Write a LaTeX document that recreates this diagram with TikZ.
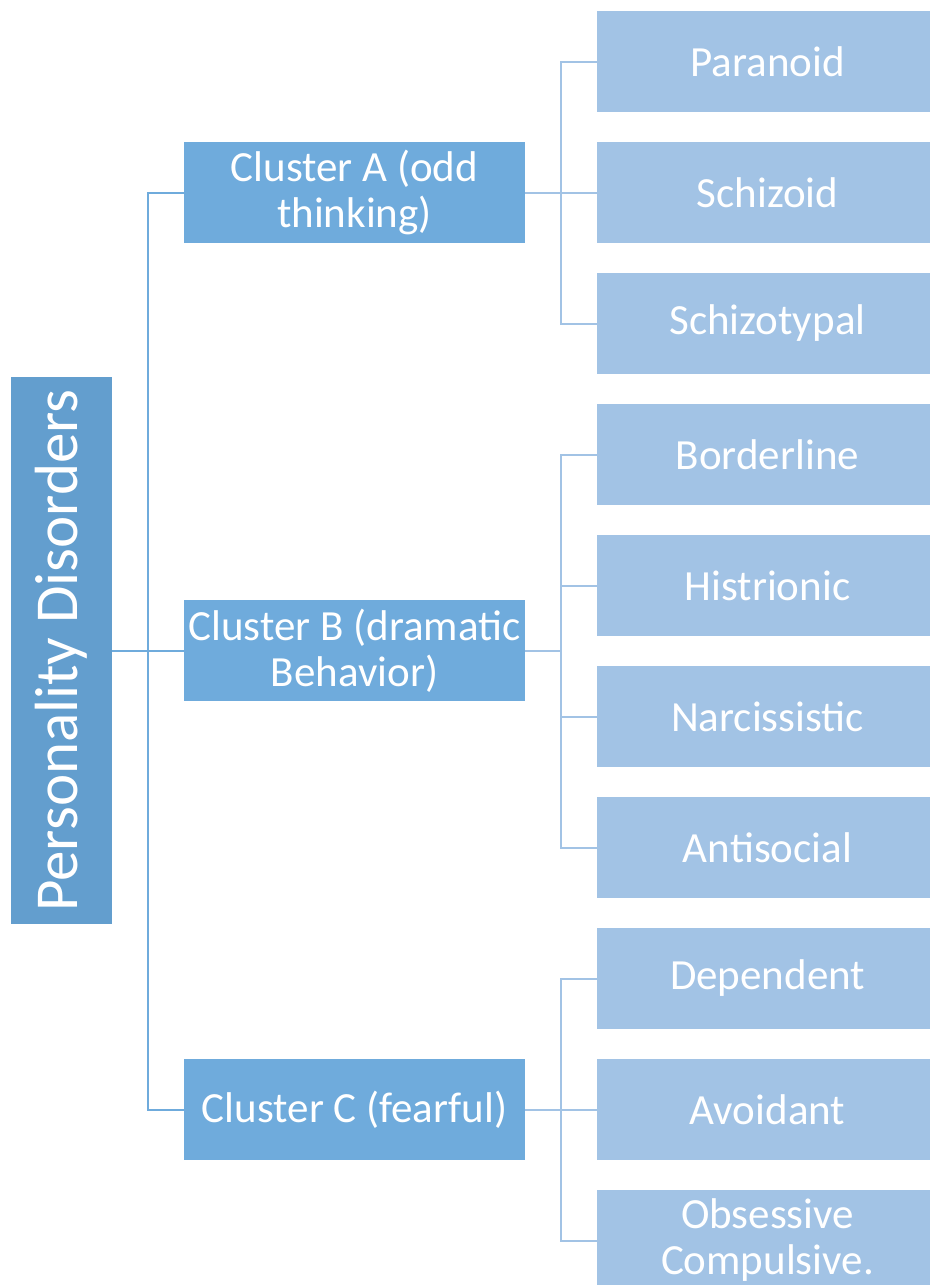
\documentclass[tikz,border=0pt]{standalone}
\usepackage{fontspec}
\setmainfont{Carlito}
\usetikzlibrary{positioning}
\definecolor{rootblue}{HTML}{639ECE}
\definecolor{midblue}{HTML}{6FABDC}
\definecolor{leafblue}{HTML}{A2C3E5}

\begin{document}
\begin{tikzpicture}[
    x=1pt, y=-1pt,
    node distance=30pt,
    rootbox/.style={rectangle, fill=rootblue, text=white, rotate=90, minimum width=547pt, minimum height=101pt, inner sep=0pt, outer sep=0pt, font=\fontsize{61}{68}\selectfont},
    clusterbox/.style={rectangle, fill=midblue, text=white, minimum width=341pt, minimum height=101pt, inner sep=0pt, outer sep=0pt, align=center, font=\fontsize{43}{46}\selectfont},
    leafbox/.style={rectangle, fill=leafblue, text=white, minimum width=341pt, minimum height=101pt, inner sep=0pt, outer sep=0pt, align=center, font=\fontsize{43}{46}\selectfont},
    trunk/.style={draw=midblue, line width=2pt},
    twig/.style={draw=leafblue, line width=2pt}
]
\useasboundingbox (0,0) rectangle (929,1285);

% root and clusters
\node[rootbox] (root) at (61.5,650.5) {Personality Disorders};
\node[clusterbox] (clusterA) at (354.5,192.5) {Cluster A (odd\\thinking)};
\node[clusterbox] (clusterB) at (354.5,650.5) {Cluster B (dramatic\\Behavior)};
\node[clusterbox] (clusterC) at (354.5,1109.5) {Cluster C (fearful)};

% disorders
\node[leafbox] (paranoid) at (767.5,61.5) {Paranoid};
\node[leafbox, below=of paranoid] (schizoid) {Schizoid};
\node[leafbox, below=of schizoid] (schizotypal) {Schizotypal};
\node[leafbox, below=of schizotypal] (borderline) {Borderline};
\node[leafbox, below=of borderline] (histrionic) {Histrionic};
\node[leafbox, below=of histrionic] (narcissistic) {Narcissistic};
\node[leafbox, below=of narcissistic] (antisocial) {Antisocial};
\node[leafbox, below=of antisocial] (dependent) {Dependent};
\node[leafbox, below=of dependent] (avoidant) {Avoidant};
\node[leafbox, below=of avoidant] (obsessive) {Obsessive\\Compulsive.};

% connectors
\draw[trunk] (root.south) -- ++(36,0) coordinate (rootjoin);
\foreach \c in {clusterA,clusterB,clusterC}
  \draw[trunk] (rootjoin) |- (\c.west);

\draw[twig] (clusterA.east) -- ++(36,0) coordinate (joinA);
\foreach \d in {paranoid,schizoid,schizotypal}
  \draw[twig] (joinA) |- (\d.west);

\draw[twig] (clusterB.east) -- ++(36,0) coordinate (joinB);
\foreach \d in {borderline,histrionic,narcissistic,antisocial}
  \draw[twig] (joinB) |- (\d.west);

\draw[twig] (clusterC.east) -- ++(36,0) coordinate (joinC);
\foreach \d in {dependent,avoidant,obsessive}
  \draw[twig] (joinC) |- (\d.west);

\end{tikzpicture}
\end{document}
